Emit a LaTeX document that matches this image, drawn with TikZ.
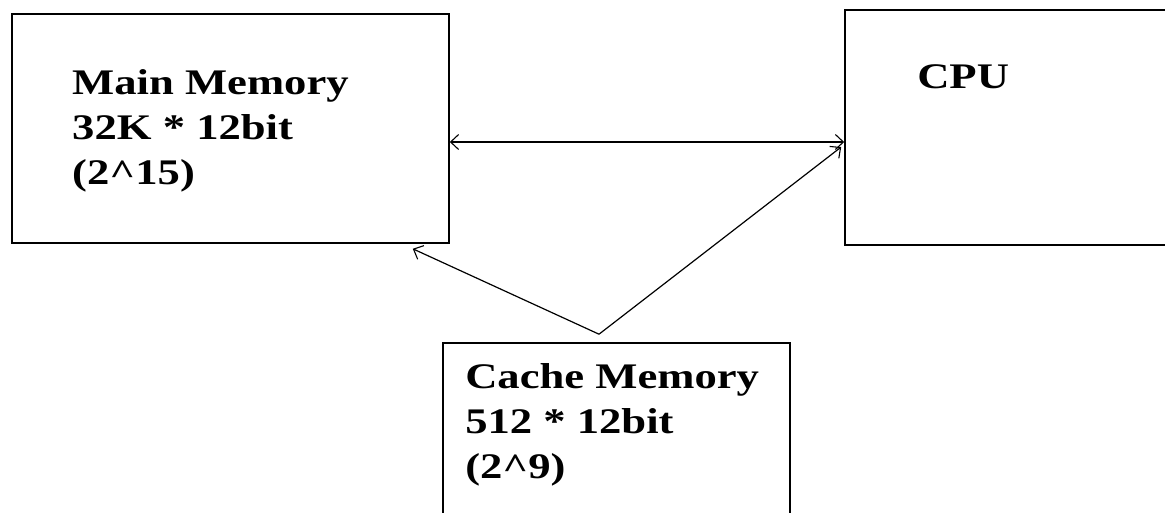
\documentclass[tikz,border=0pt]{standalone}
\usepackage{fontspec}
\setmainfont{Liberation Serif}
\usetikzlibrary{arrows.meta}
\begin{document}
\begin{tikzpicture}[x=1pt,y=-1pt,
  box/.style={draw=black,line width=1.6pt,rectangle,inner sep=0pt},
  lbl/.style={anchor=base west,inner sep=0pt,align=left,xscale=1.24,transform shape,
    font=\fontsize{36}{45}\selectfont\bfseries},
  tip/.style={Straight Barb[length=8pt,width=15pt,line width=1.1pt]},
  conn/.style={line width=1.2pt,-{Straight Barb[length=8pt,width=15pt,line width=1.1pt]}},
]
\useasboundingbox[fill=white] (0,0) rectangle (1165,513);
\node[box,minimum width=437pt,minimum height=229pt] (main) at (230.5,128.5) {};
\node[box,minimum width=340pt,minimum height=235pt] (cpu) at (1015,127.5) {};
\node[box,minimum width=347pt,minimum height=190pt] (cache) at (616.5,438) {};
\node[lbl] (maintext) at (72,185) {Main Memory\\32K * 12bit\\(2\textasciicircum 15)};
\node[lbl] (cputext) at (917,89) {CPU};
\node[lbl] (cachetext) at (465,478) {Cache Memory\\512 * 12bit\\(2\textasciicircum 9)};
\coordinate (apex) at ([xshift=-17.5pt,yshift=8pt]cache.north);
\draw[line width=1.2pt,{Straight Barb[length=8pt,width=15pt,line width=1.1pt]}-{Straight Barb[length=8pt,width=15pt,line width=1.1pt]}]
  ([yshift=-13.5pt]main.east) -- ([yshift=-14.5pt]cpu.west);
\draw[conn] (apex) -- ([xshift=-37pt,yshift=-5pt]main.south east);
\draw[conn] (apex) -- ([xshift=-3pt,yshift=-19.5pt]cpu.west);
\end{tikzpicture}
\end{document}
